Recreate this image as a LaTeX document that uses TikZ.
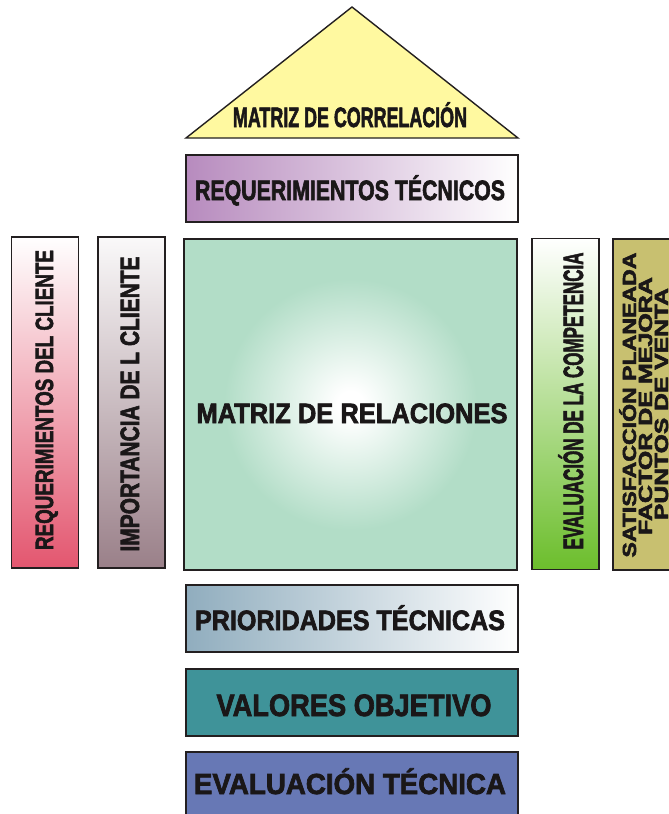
\documentclass[tikz,border=0pt]{standalone}
\usepackage{fontspec}
\setmainfont{Liberation Sans}
\newfontfamily\hv{Liberation Sans}[BoldFeatures={FakeBold=2.5}]
\usepackage{graphicx}
\newcommand{\fitw}[3]{\resizebox{#1pt}{\height}{\fontsize{#2}{#2}\selectfont\hv\bfseries #3}}
\definecolor{edge}{HTML}{231F20}
\definecolor{tri}{HTML}{FFF9A0}
\definecolor{purp}{HTML}{B78BBE}
\definecolor{redc}{HTML}{E3566F}
\definecolor{mauve}{HTML}{9A8089}
\definecolor{matg}{HTML}{B2DDC7}
\definecolor{greenc}{HTML}{6CBE2C}
\definecolor{khaki}{HTML}{C8C070}
\definecolor{bluegr}{HTML}{90ADBE}
\definecolor{teal}{HTML}{3F9399}
\definecolor{peri}{HTML}{6778B5}
\definecolor{txt}{HTML}{1A1718}
\pgfdeclareradialshading{matshade}{\pgfpoint{0bp}{0bp}}{color(0bp)=(white); color(2bp)=(white); color(19bp)=(matg); color(50bp)=(matg)}
\begin{document}
\begin{tikzpicture}[x=1pt,y=-1pt,
  box/.style={draw=edge, line width=1.4pt, inner sep=0pt, outer sep=0pt, rectangle},
  hbox/.style={box, minimum width=332pt, minimum height=67pt},
  vbox/.style={box, minimum width=67pt, minimum height=331pt},
  lbl/.style={inner sep=0pt, outer sep=0pt, anchor=base, text=txt}]
\useasboundingbox (0,0) rectangle (669,814);
\clip (0,0) rectangle (669,814);
% triangle
\coordinate (apex) at (352,7);
\coordinate (bl) at (186,138);
\coordinate (br) at (518,138);
\draw[fill=tri, draw=edge, line width=1.4pt, line join=miter] (bl) -- (apex) -- (br) -- cycle;
\node[lbl] (tcorr) at (350,127) {\fitw{234}{28}{MATRIZ DE CORRELACIÓN}};
% horizontal boxes
\node[hbox, left color=purp, right color=white] (reqt) at (352,188.5) {};
\node[lbl] (treqt) at (350,200) {\fitw{310}{28}{REQUERIMIENTOS TÉCNICOS}};
\node[hbox, left color=bluegr, right color=white] (prio) at (352,618.5) {};
\node[lbl] (tprio) at (350,630) {\fitw{310}{28}{PRIORIDADES TÉCNICAS}};
\node[hbox, fill=teal] (valo) at (352,702.5) {};
\node[lbl] (tvalo) at (354,716) {\fitw{275}{31}{VALORES OBJETIVO}};
\node[hbox, fill=peri] (evat) at (352,785.5) {};
\node[lbl] (tevat) at (350,794) {\fitw{312}{29}{EVALUACIÓN TÉCNICA}};
% matrix
\node[box, minimum width=333pt, minimum height=331pt, shading=matshade] (mat) at (350.5,404.5) {};
\node[lbl] (tmat) at (352,423) {\fitw{311}{28}{MATRIZ DE RELACIONES}};
% vertical boxes
\node[vbox, top color=white, bottom color=redc] (rcli) at (45,402.5) {};
\node[lbl, rotate=90] (trcli) at (53,400) {\fitw{300}{25}{REQUERIMIENTOS DEL CLIENTE}};
\node[vbox, top color=white!95!mauve, bottom color=mauve] (icli) at (131.5,402.5) {};
\node[lbl, rotate=90] (ticli) at (139,404) {\fitw{295}{26.5}{IMPORTANCIA DE L CLIENTE}};
\node[vbox, top color=white, bottom color=greenc] (ecom) at (565.5,404) {};
\node[lbl, rotate=90] (tecom) at (583,401) {\fitw{297}{28}{EVALUACIÓN DE LA COMPETENCIA}};
\node[vbox, fill=khaki] (sat) at (646.5,404.5) {};
\node[lbl, rotate=90] (tsat1) at (636,405) {\fitw{305}{19}{SATISFACCIÓN PLANEADA}};
\node[lbl, rotate=90] (tsat2) at (652,406) {\fitw{258}{19}{FACTOR DE MEJORA}};
\node[lbl, rotate=90] (tsat3) at (668,404) {\fitw{232}{19}{PUNTOS DE VENTA}};
\end{tikzpicture}
\end{document}
